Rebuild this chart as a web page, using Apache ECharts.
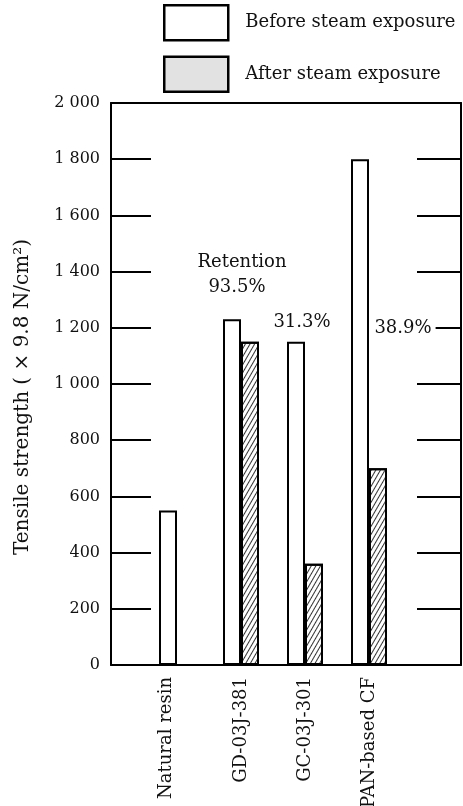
<!DOCTYPE html>
<html><head><meta charset="utf-8">
<script src="https://cdn.jsdelivr.net/npm/echarts@6/dist/echarts.min.js"></script>
<style>html,body{margin:0;padding:0;background:#fff}#c{width:463px;height:806px}</style>
</head><body><div id="c"></div>
<script>
const categories = ['Natural resin', 'GD-03J-381', 'GC-03J-301', 'PAN-based CF'];
const beforeValues = [550, 1230, 1150, 1800];
const afterValues = [null, 1150, 360, 700];
const seriesNames = ['Before steam exposure', 'After steam exposure'];
const retentionTexts = ['Retention', '93.5%', '31.3%', '38.9%'];
const yMin = 0, yMax = 2000, yStep = 200;

const FONT = 'DejaVu Serif';
const chart = echarts.init(document.getElementById('c'), null, {renderer: 'canvas'});
const fmt = v => v >= 1000 ? Math.floor(v / 1000) + ' ' + String(v % 1000).padStart(3, '0') : String(v);
const hatch = {
  symbol: 'rect', symbolSize: 1, color: '#333',
  dashArrayX: [1, 0], dashArrayY: [1, 3], rotation: -Math.PI / 3
};
const line = {show: true, onZero: false, lineStyle: {color: '#000', width: 2}};
const annStyle = {fontFamily: FONT, fontSize: 18, fill: '#111', align: 'center', verticalAlign: 'middle'};
chart.setOption({
  backgroundColor: '#fff',
  animation: false,
  legend: {
    left: 163, top: 4, orient: 'vertical', padding: 0,
    itemWidth: 64, itemHeight: 35, itemGap: 14,
    icon: 'rect',
    textStyle: {fontFamily: FONT, fontSize: 18, color: '#111', padding: [0, 0, 0, 12]},
    data: [
      {name: seriesNames[0], itemStyle: {color: '#fff', borderColor: '#000', borderWidth: 2.5}},
      {name: seriesNames[1], itemStyle: {color: '#e2e2e2', borderColor: '#000', borderWidth: 2.5, decal: 'none'}}
    ]
  },
  grid: [
    {left: 111, right: 2, top: 103, bottom: 141, outerBoundsMode: 'none', containLabel: false},
    {left: 145, width: 256, top: 103, bottom: 141, outerBoundsMode: 'none', containLabel: false}
  ],
  xAxis: [
    {gridIndex: 0, type: 'value', min: 0, max: 1, position: 'bottom',
     axisLine: line, axisTick: {show: false}, axisLabel: {show: false}, splitLine: {show: false}},
    {gridIndex: 0, type: 'value', min: 0, max: 1, position: 'top',
     axisLine: line, axisTick: {show: false}, axisLabel: {show: false}, splitLine: {show: false}},
    {gridIndex: 1, type: 'category', data: categories,
     axisLine: {show: false}, axisTick: {show: false},
     axisLabel: {rotate: 90, margin: 12, fontFamily: FONT, fontSize: 18, color: '#111',
       // the category with a single bar has its label centred under that bar
       formatter: (v, i) => afterValues[i] == null ? '{s|' + v + '}' : v,
       rich: {s: {fontFamily: FONT, fontSize: 18, color: '#111', padding: [0, 0, 22, 0]}}}}
  ],
  yAxis: [
    {gridIndex: 0, type: 'value', min: yMin, max: yMax, interval: yStep, position: 'left',
     name: 'Tensile strength ( × 9.8 N/cm²)', nameLocation: 'middle', nameGap: 78,
     nameTextStyle: {fontFamily: FONT, fontSize: 20, color: '#111', padding: [0, 26, 0, 0]},
     axisLine: line,
     axisTick: {show: true, inside: true, length: 40, lineStyle: {color: '#000', width: 2}},
     axisLabel: {formatter: fmt, margin: 11, fontFamily: FONT, fontSize: 16, color: '#111'},
     splitLine: {show: false}},
    {gridIndex: 0, type: 'value', min: yMin, max: yMax, interval: yStep, position: 'right',
     axisLine: line,
     axisTick: {show: true, inside: true, length: 44, lineStyle: {color: '#000', width: 2}},
     axisLabel: {show: false}, splitLine: {show: false}},
    {gridIndex: 1, type: 'value', min: yMin, max: yMax, show: false}
  ],
  series: [
    {name: seriesNames[0], type: 'bar', xAxisIndex: 2, yAxisIndex: 2, data: beforeValues,
     barWidth: 18, barGap: '0%',
     itemStyle: {color: '#fff', borderColor: '#000', borderWidth: 2}},
    {name: seriesNames[1], type: 'bar', xAxisIndex: 2, yAxisIndex: 2, data: afterValues,
     barWidth: 18, barGap: '0%',
     itemStyle: {color: '#fff', borderColor: '#000', borderWidth: 2, decal: hatch}}
  ],
  graphic: [
    {type: 'text', z: 100, x: 242, y: 262, style: Object.assign({text: retentionTexts[0]}, annStyle)},
    {type: 'text', z: 100, x: 237, y: 287, style: Object.assign({text: retentionTexts[1]}, annStyle)},
    {type: 'text', z: 100, x: 302, y: 322, style: Object.assign({text: retentionTexts[2]}, annStyle)},
    {type: 'text', z: 100, x: 403, y: 328, style: Object.assign({text: retentionTexts[3], backgroundColor: '#fff', padding: [2, 4, 2, 4]}, annStyle)}
  ]
});
</script></body></html>
